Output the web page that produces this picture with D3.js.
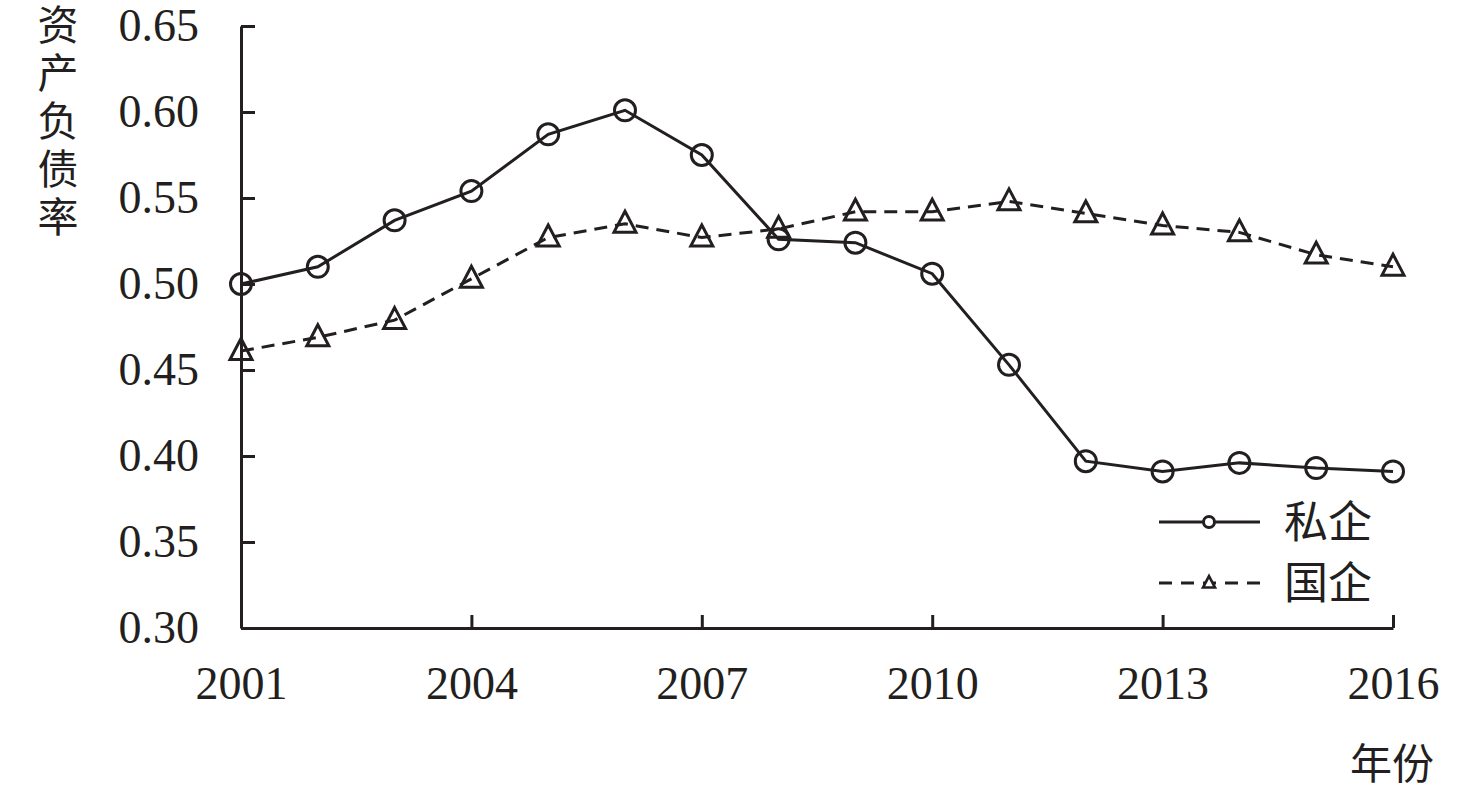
<!DOCTYPE html>
<html>
<head>
<meta charset="utf-8">
<script src="https://cdn.jsdelivr.net/npm/d3@7"></script>
<style>
  body { margin: 0; background: #fff; }
  svg { display: block; }
</style>
</head>
<body>
<div id="chart"></div>
<script>
// Data
const years = d3.range(2001, 2017)
const privateRatio = [0.500, 0.510, 0.537, 0.554, 0.587, 0.601, 0.575, 0.526,
                      0.524, 0.506, 0.453, 0.397, 0.391, 0.396, 0.393, 0.391]
const stateRatio = [0.461, 0.469, 0.479, 0.503, 0.527, 0.535, 0.527, 0.532,
                    0.542, 0.542, 0.548, 0.541, 0.534, 0.530, 0.517, 0.510]
const xTicks = [2001, 2004, 2007, 2010, 2013, 2016]
const yTicks = [0.30, 0.35, 0.40, 0.45, 0.50, 0.55, 0.60, 0.65]
const seriesNames = ['私企', '国企']
const yTitle = '资产负债率'
const xTitle = '年份'

const ink = '#231f20'
const numFont = '"Liberation Serif", "Times New Roman", serif'
const cjkFont = '"Noto Sans CJK SC", sans-serif'
const sw = 3

// Dimensions
const dimensions = {
  width: 1476,
  height: 791,
  left: 241,
  right: 1393,
  top: 26,
  bottom: 628,
}

const svg = d3.select('#chart')
  .append('svg')
  .attr('width', dimensions.width)
  .attr('height', dimensions.height)

// Scales
const x = d3.scaleLinear()
  .domain([2001, 2016])
  .range([dimensions.left, dimensions.right])

const y = d3.scaleLinear()
  .domain([0.30, 0.65])
  .range([dimensions.bottom, dimensions.top])

// Axes
const yAxis = svg.append('g')
  .attr('transform', `translate(${dimensions.left}, 0)`)
  .call(d3.axisLeft(y)
    .tickValues(yTicks)
    .tickFormat(d3.format('.2f'))
    .tickSizeInner(-14)
    .tickSizeOuter(0)
    .tickPadding(42))

const xAxis = svg.append('g')
  .attr('transform', `translate(0, ${dimensions.bottom})`)
  .call(d3.axisBottom(x)
    .tickValues(xTicks)
    .tickFormat(d3.format('d'))
    .tickSizeInner(-13)
    .tickSizeOuter(0)
    .tickPadding(38))

for (const ax of [xAxis, yAxis]) {
  ax.select('.domain').attr('stroke', ink).attr('stroke-width', sw)
  ax.selectAll('.tick line').attr('stroke', ink).attr('stroke-width', sw)
  ax.selectAll('.tick text')
    .attr('fill', ink)
    .style('font-family', numFont)
    .style('font-size', '46px')
}

// Axis titles (y title set vertically, one glyph under the other)
svg.append('text')
  .attr('x', 58)
  .attr('y', 4)
  .attr('fill', ink)
  .style('writing-mode', 'vertical-rl')
  .style('text-orientation', 'upright')
  .style('letter-spacing', '7px')
  .style('font-family', cjkFont)
  .style('font-size', '41px')
  .text(yTitle)

svg.append('text')
  .attr('x', 1392)
  .attr('y', 764)
  .attr('dy', '0.36em')
  .attr('text-anchor', 'middle')
  .attr('fill', ink)
  .style('font-family', cjkFont)
  .style('font-size', '42px')
  .text(xTitle)

// Lines
const line = d3.line()
  .x((d, i) => x(years[i]))
  .y(d => y(d))

svg.append('path')
  .datum(privateRatio)
  .attr('fill', 'none')
  .attr('stroke', ink)
  .attr('stroke-width', sw)
  .attr('d', line)

svg.append('path')
  .datum(stateRatio)
  .attr('fill', 'none')
  .attr('stroke', ink)
  .attr('stroke-width', sw)
  .attr('stroke-dasharray', '13,8')
  .attr('d', line)

// Markers
const triangle = (s) => {
  const h = s * 0.95
  return `M0,${-h * 0.6}L${s / 2},${h * 0.4}L${-s / 2},${h * 0.4}Z`
}

svg.append('g')
  .selectAll('circle')
  .data(privateRatio)
  .join('circle')
  .attr('cx', (d, i) => x(years[i]))
  .attr('cy', d => y(d))
  .attr('r', 10.5)
  .attr('fill', 'none')
  .attr('stroke', ink)
  .attr('stroke-width', sw)

svg.append('g')
  .selectAll('path')
  .data(stateRatio)
  .join('path')
  .attr('transform', (d, i) => `translate(${x(years[i])}, ${y(d)})`)
  .attr('d', triangle(22))
  .attr('fill', 'none')
  .attr('stroke', ink)
  .attr('stroke-width', sw)

// Legend
const legend = svg.append('g')
  .attr('transform', 'translate(1159, 522)')

legend.append('line')
  .attr('x1', 0).attr('x2', 101)
  .attr('y1', 0).attr('y2', 0)
  .attr('stroke', ink)
  .attr('stroke-width', sw)

legend.append('circle')
  .attr('cx', 50).attr('cy', 0)
  .attr('r', 5.5)
  .attr('fill', 'white')
  .attr('stroke', ink)
  .attr('stroke-width', sw)

legend.append('line')
  .attr('x1', 0).attr('x2', 101)
  .attr('y1', 61).attr('y2', 61)
  .attr('stroke', ink)
  .attr('stroke-width', sw)
  .attr('stroke-dasharray', '13,9')

legend.append('path')
  .attr('transform', 'translate(50, 61)')
  .attr('d', triangle(12))
  .attr('fill', 'white')
  .attr('stroke', ink)
  .attr('stroke-width', 2.6)

legend.selectAll('text')
  .data(seriesNames)
  .join('text')
  .attr('x', 125)
  .attr('y', (d, i) => i * 61)
  .attr('dy', '0.36em')
  .attr('fill', ink)
  .style('font-family', cjkFont)
  .style('font-size', '44px')
  .text(d => d)
</script>
</body>
</html>
